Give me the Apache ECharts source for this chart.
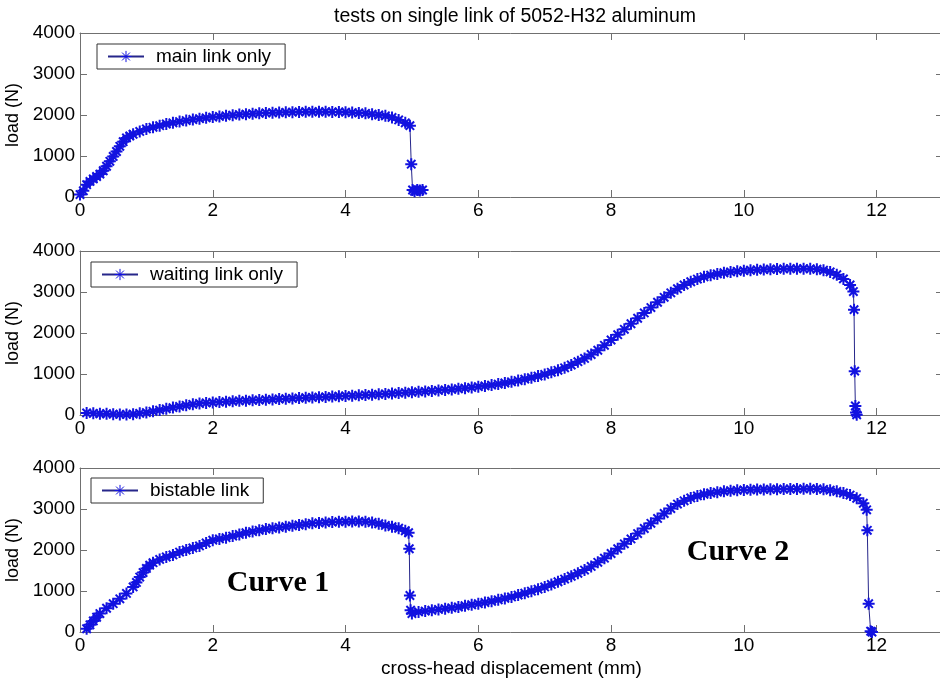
<!DOCTYPE html>
<html>
<head>
<meta charset="utf-8">
<script src="https://cdn.jsdelivr.net/npm/echarts@6/dist/echarts.min.js"></script>
<style>
  html, body { margin: 0; padding: 0; background: #fff; }
  #main { width: 940px; height: 681px; }
</style>
</head>
<body>
<div id="main"></div>
<script>
'use strict'

// [displacement (mm), load (N)]
var mainLinkData = [
    [0.0, 60], [0.05, 150], [0.1, 300], [0.15, 380], [0.2, 440], [0.25, 500], [0.3, 560], [0.35, 640],
    [0.4, 750], [0.45, 870], [0.5, 990], [0.55, 1110], [0.6, 1235], [0.65, 1350], [0.7, 1440], [0.75, 1490],
    [0.8, 1530], [0.9, 1600], [1.0, 1660], [1.1, 1700], [1.2, 1740], [1.3, 1780], [1.4, 1810], [1.5, 1840],
    [1.6, 1865], [1.7, 1890], [1.8, 1910], [1.9, 1930], [2.0, 1950], [2.1, 1965], [2.2, 1980], [2.3, 1995],
    [2.4, 2010], [2.5, 2020], [2.6, 2030], [2.7, 2040], [2.8, 2050], [2.9, 2055], [3.0, 2060], [3.1, 2065],
    [3.2, 2070], [3.3, 2075], [3.4, 2080], [3.5, 2080], [3.6, 2080], [3.7, 2080], [3.8, 2075], [3.9, 2075],
    [4.0, 2070], [4.1, 2060], [4.2, 2050], [4.3, 2040], [4.4, 2020], [4.5, 2000], [4.6, 1980], [4.7, 1940],
    [4.8, 1880], [4.9, 1810], [4.97, 1740], [4.99, 800], [5.01, 170], [5.04, 140], [5.08, 170], [5.12, 160],
    [5.16, 170]
]

var waitingLinkData = [
    [0.1, 50], [0.2, 40], [0.3, 30], [0.4, 30], [0.5, 20], [0.6, 15], [0.7, 15], [0.8, 20], [0.9, 40],
    [1.0, 60], [1.1, 90], [1.2, 120], [1.3, 150], [1.4, 180], [1.5, 210], [1.6, 235], [1.7, 260], [1.8, 280],
    [1.9, 295], [2.0, 305], [2.1, 315], [2.2, 325], [2.3, 335], [2.4, 345], [2.5, 350], [2.6, 360], [2.7, 365],
    [2.8, 375], [2.9, 380], [3.0, 390], [3.1, 398], [3.2, 405], [3.3, 412], [3.4, 420], [3.5, 428], [3.6, 435],
    [3.7, 442], [3.8, 450], [3.9, 458], [4.0, 465], [4.1, 472], [4.2, 480], [4.3, 488], [4.4, 495], [4.5, 505],
    [4.6, 515], [4.7, 525], [4.8, 535], [4.9, 545], [5.0, 555], [5.1, 565], [5.2, 575], [5.3, 588], [5.4, 600],
    [5.5, 612], [5.6, 625], [5.7, 640], [5.8, 655], [5.9, 672], [6.0, 690], [6.1, 710], [6.2, 730], [6.3, 755],
    [6.4, 780], [6.5, 810], [6.6, 840], [6.7, 875], [6.8, 910], [6.9, 950], [7.0, 990], [7.1, 1040], [7.2, 1090],
    [7.3, 1150], [7.4, 1220], [7.5, 1300], [7.6, 1380], [7.7, 1475], [7.8, 1580], [7.9, 1700], [8.0, 1830],
    [8.1, 1960], [8.2, 2090], [8.3, 2225], [8.4, 2360], [8.5, 2490], [8.6, 2620], [8.7, 2750], [8.8, 2870],
    [8.9, 2980], [9.0, 3080], [9.1, 3170], [9.2, 3250], [9.3, 3315], [9.4, 3370], [9.5, 3410], [9.6, 3440],
    [9.7, 3470], [9.8, 3490], [9.9, 3505], [10.0, 3520], [10.1, 3530], [10.2, 3540], [10.3, 3548], [10.4, 3555],
    [10.5, 3560], [10.6, 3565], [10.7, 3568], [10.8, 3570], [10.9, 3568], [11.0, 3565], [11.1, 3555], [11.2, 3530],
    [11.3, 3490], [11.4, 3420], [11.5, 3320], [11.6, 3170], [11.65, 3010], [11.66, 2570], [11.67, 1070],
    [11.68, 220], [11.69, 60], [11.7, 5]
]

var bistableLinkData = [
    [0.1, 80], [0.15, 175], [0.2, 270], [0.25, 360], [0.3, 450], [0.4, 580], [0.5, 690], [0.6, 810],
    [0.7, 940], [0.8, 1100], [0.85, 1210], [0.9, 1340], [0.95, 1450], [1.0, 1550], [1.05, 1630],
    [1.1, 1690], [1.2, 1770], [1.3, 1830], [1.4, 1880], [1.5, 1950], [1.6, 2000], [1.7, 2050],
    [1.8, 2100], [1.9, 2170], [2.0, 2240], [2.1, 2270], [2.2, 2300], [2.3, 2340], [2.4, 2380], [2.5, 2420],
    [2.6, 2450], [2.7, 2480], [2.8, 2510], [2.9, 2530], [3.0, 2550], [3.1, 2570], [3.2, 2590], [3.3, 2610],
    [3.4, 2630], [3.5, 2650], [3.6, 2660], [3.7, 2670], [3.8, 2680], [3.9, 2690], [4.0, 2690], [4.1, 2695],
    [4.2, 2695], [4.3, 2690], [4.4, 2670], [4.5, 2640], [4.6, 2600], [4.7, 2570], [4.8, 2530], [4.9, 2470],
    [4.95, 2420], [4.96, 2030], [4.97, 890], [4.98, 530], [5.0, 450], [5.1, 490], [5.2, 510], [5.3, 530],
    [5.4, 550], [5.5, 570], [5.6, 590], [5.7, 610], [5.8, 640], [5.9, 665], [6.0, 690], [6.1, 720], [6.2, 750],
    [6.3, 785], [6.4, 820], [6.5, 855], [6.6, 900], [6.7, 945], [6.8, 995], [6.9, 1045], [7.0, 1100],
    [7.1, 1160], [7.2, 1225], [7.3, 1290], [7.4, 1360], [7.5, 1430], [7.6, 1510], [7.7, 1600], [7.8, 1700],
    [7.9, 1800], [8.0, 1915], [8.1, 2030], [8.2, 2150], [8.3, 2270], [8.4, 2400], [8.5, 2525], [8.6, 2650],
    [8.7, 2770], [8.8, 2890], [8.9, 3010], [9.0, 3120], [9.1, 3200], [9.2, 3270], [9.3, 3320], [9.4, 3360],
    [9.5, 3390], [9.6, 3410], [9.7, 3430], [9.8, 3445], [9.9, 3455], [10.0, 3465], [10.1, 3470], [10.2, 3475],
    [10.3, 3478], [10.4, 3480], [10.5, 3482], [10.6, 3485], [10.7, 3488], [10.8, 3490], [10.9, 3492],
    [11.0, 3495], [11.1, 3490], [11.2, 3480], [11.3, 3460], [11.4, 3430], [11.5, 3390], [11.6, 3340],
    [11.7, 3260], [11.8, 3140], [11.85, 2980], [11.86, 2480], [11.88, 690], [11.91, 20], [11.93, 0]
]

var seriesNames = ['main link only', 'waiting link only', 'bistable link']
var seriesData = [mainLinkData, waitingLinkData, bistableLinkData]
var xTickInterval = 2
var yTickInterval = 1000

// panel boxes (MATLAB subplot layout)
var gridTops = [33, 251, 468]
var gridHeight = 164
var legendPos = [[97, 44], [91, 262], [91, 478]]

var star = 'path://M0 -10L0 10M-10 0L10 0M-7 -7L7 7M-7 7L7 -7'
var axisGray = '#707070'
var font = 'Liberation Sans, Arial, sans-serif'

var grids = [], xAxes = [], yAxes = [], series = [], legends = []

for (var i = 0; i < 3; i++) {
    grids.push({ left: 80, top: gridTops[i], width: 863, height: gridHeight, outerBoundsMode: 'none', containLabel: false })

    // bottom + left axes with labels
    xAxes.push({
        type: 'value', gridIndex: i, min: 0, max: 13, interval: xTickInterval,
        name: i == 2 ? 'cross-head displacement (mm)' : '',
        nameLocation: 'middle', nameGap: 27,
        nameTextStyle: { color: '#000', fontSize: 19, fontFamily: font },
        axisLine: { show: true, onZero: false, lineStyle: { color: axisGray } },
        axisTick: { inside: true, length: 7, lineStyle: { color: axisGray } },
        axisLabel: { color: '#000', fontSize: 19, fontFamily: font, margin: 4,
            formatter: function (v) { return v % 2 === 0 ? String(v) : '' } },
        splitLine: { show: false }
    })
    // mirrored top axis (ticks only)
    xAxes.push({
        type: 'value', gridIndex: i, position: 'top', min: 0, max: 13, interval: xTickInterval,
        axisLine: { show: true, onZero: false, lineStyle: { color: axisGray } },
        axisTick: { inside: true, length: 7, lineStyle: { color: axisGray } },
        axisLabel: { show: false },
        splitLine: { show: false }
    })
    yAxes.push({
        type: 'value', gridIndex: i, min: 0, max: 4000, interval: yTickInterval,
        name: 'load (N)', nameLocation: 'middle', nameGap: 56, nameRotate: 90,
        nameTextStyle: { color: '#000', fontSize: 18, fontFamily: font },
        axisLine: { show: true, onZero: false, lineStyle: { color: axisGray } },
        axisTick: { inside: true, length: 7, lineStyle: { color: axisGray } },
        axisLabel: { color: '#000', fontSize: 19, fontFamily: font, margin: 5,
            formatter: function (v) { return String(v) } },
        splitLine: { show: false }
    })
    yAxes.push({
        type: 'value', gridIndex: i, position: 'right', min: 0, max: 4000, interval: yTickInterval,
        axisLine: { show: true, onZero: false, lineStyle: { color: axisGray } },
        axisTick: { inside: true, length: 7, lineStyle: { color: axisGray } },
        axisLabel: { show: false },
        splitLine: { show: false }
    })

    series.push({
        name: seriesNames[i],
        type: 'line',
        xAxisIndex: i * 2,
        yAxisIndex: i * 2,
        data: seriesData[i],
        symbol: star,
        symbolSize: 12,
        showAllSymbol: true,
        lineStyle: { color: '#26268a', width: 1 },
        itemStyle: { color: '#1212e0', borderColor: '#1212e0', borderWidth: 2 },
        emphasis: { disabled: true }
    })

    legends.push({
        data: [seriesNames[i]],
        left: legendPos[i][0],
        top: legendPos[i][1],
        orient: 'vertical',
        padding: [3, 14, 3, 10],
        itemWidth: 36,
        itemHeight: 14,
        backgroundColor: '#fff',
        borderColor: '#333',
        borderWidth: 1,
        borderRadius: 0,
        selectedMode: false,
        itemStyle: { borderWidth: 1 },
        textStyle: { color: '#000', fontSize: 19, fontFamily: font, padding: [0, 0, 0, 7] }
    })
}

var chart = echarts.init(document.getElementById('main'))
chart.setOption({
    animation: false,
    backgroundColor: '#fff',
    title: {
        text: 'tests on single link of 5052-H32 aluminum',
        left: 510, top: 2, textAlign: 'center',
        textStyle: { color: '#000', fontSize: 19.5, fontWeight: 'normal', fontFamily: font }
    },
    grid: grids,
    xAxis: xAxes,
    yAxis: yAxes,
    legend: legends,
    series: series,
    graphic: [
        { type: 'text', x: 278, y: 583, style: { text: 'Curve 1', fill: '#000', align: 'center', verticalAlign: 'middle',
            font: 'bold 30px "Liberation Serif", "Times New Roman", serif' } },
        { type: 'text', x: 738, y: 552, style: { text: 'Curve 2', fill: '#000', align: 'center', verticalAlign: 'middle',
            font: 'bold 30px "Liberation Serif", "Times New Roman", serif' } }
    ]
})
</script>
</body>
</html>
